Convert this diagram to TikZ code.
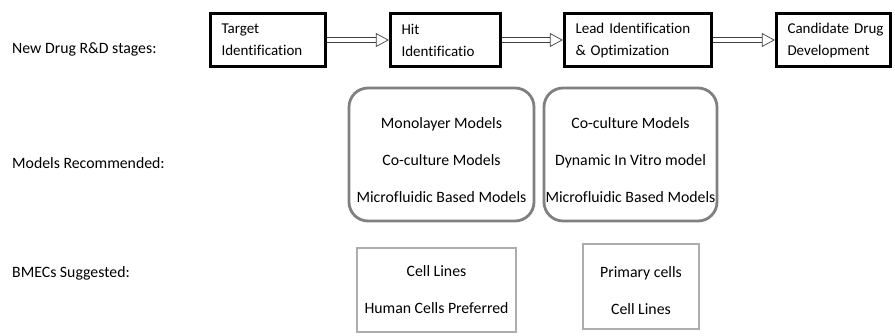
\documentclass[tikz,border=0pt]{standalone}
\usepackage{fontspec}
\setmainfont{Carlito}[Ligatures=NoCommon]
\usetikzlibrary{arrows.meta}

\tikzset{
  stage/.style={draw=black, line width=3.4pt, minimum height=53pt, align=left, inner xsep=11pt, inner ysep=0pt,
    font=\fontsize{15}{22}\selectfont},
  model/.style={draw=black!50, line width=2.8pt, rounded corners=19pt, inner sep=0pt},
  cellbox/.style={draw=black!32, line width=2.8pt, inner sep=0pt},
  boxtext/.style={align=center, inner sep=0pt},
  rowlabel/.style={anchor=west, inner sep=0pt},
  stagearrow/.style={double=white, double distance=4pt, line width=0.7pt, draw=black!75,
    -{Triangle[open, length=13pt, width=14pt, line width=0.7pt]}}
}

\begin{document}
\begin{tikzpicture}[x=1pt, y=-1pt, font=\fontsize{15.8}{22}\selectfont]
    \useasboundingbox (0,0) rectangle (895,335);

    % row labels
    \node[rowlabel] (lstage) at (12, 49) {New Drug R\&D stages:};
    \node[rowlabel] (lmodel) at (12, 163) {Models Recommended:};
    \node[rowlabel] (lbmec) at (12, 273) {BMECs Suggested:};

    % stages
    \node[stage, text width=93pt] (target) at (268, 40) {Target\\Identification};
    \node[stage, text width=88pt] (hit) at (445.5, 40) {Hit\\Identificatio};
    \node[stage, text width=125pt] (lead) at (638, 40) {Lead~Identification\\\& Optimization};
    \node[stage, text width=92pt] (cand) at (833.5, 40) {Candidate~Drug\\Development};

    \draw[stagearrow] (target) -- (hit);
    \draw[stagearrow] (hit) -- (lead);
    \draw[stagearrow] (lead) -- (cand);

    % models
    \node[model, minimum width=185pt, minimum height=133pt] (modhit) at (441.5, 154.5) {};
    \node[boxtext] (modhittxt) at ([yshift=-5.5pt]modhit.center)
        {Monolayer Models\\[15pt]Co-culture Models\\[15pt]Microfluidic Based Models};
    \node[model, minimum width=173pt, minimum height=133pt] (modlead) at (630.5, 154.5) {};
    \node[boxtext] (modleadtxt) at ([yshift=-5.5pt]modlead.center)
        {Co-culture Models\\[15pt]Dynamic In Vitro model\\[15pt]Microfluidic Based Models};

    % cells
    \node[cellbox, minimum width=159pt, minimum height=84pt] (cellhit) at (436.5, 290) {};
    \node[boxtext] (cellhittxt) at (cellhit.center) {Cell Lines\\[15pt]Human Cells Preferred};
    \node[cellbox, minimum width=116pt, minimum height=85pt] (celllead) at (641, 286.5) {};
    \node[boxtext] (cellleadtxt) at ([yshift=-4pt]celllead.center) {Primary cells\\[15pt]Cell Lines};
\end{tikzpicture}
\end{document}
